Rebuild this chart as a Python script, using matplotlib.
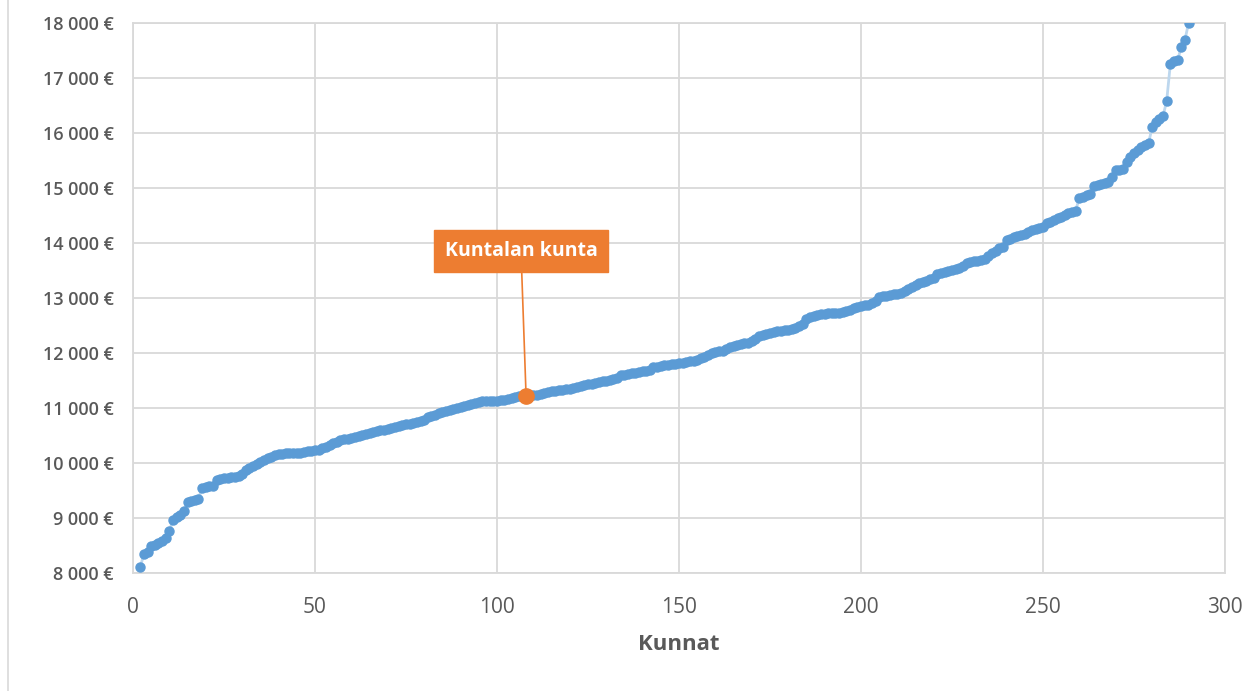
import matplotlib
matplotlib.use('Agg')
import matplotlib.pyplot as plt
from matplotlib.ticker import FuncFormatter, MultipleLocator
from matplotlib.lines import Line2D

# menot per asukas, kunnat järjestettynä pienimmästä suurimpaan
kunnat = list(range(2, 291))
menot = [
    8100, 8350, 8380, 8490, 8510, 8540, 8590, 8640, 8760, 8970,
    9010, 9060, 9120, 9290, 9310, 9320, 9350, 9550, 9570, 9580,
    9590, 9690, 9710, 9720, 9730, 9740, 9750, 9770, 9800, 9870,
    9910, 9950, 9990, 10020, 10060, 10090, 10110, 10140, 10160, 10170,
    10175, 10180, 10185, 10185, 10180, 10200, 10210, 10220, 10230, 10245,
    10265, 10290, 10320, 10355, 10380, 10420, 10435, 10445, 10455, 10470,
    10490, 10510, 10530, 10550, 10570, 10580, 10595, 10605, 10625, 10645,
    10660, 10675, 10690, 10700, 10710, 10720, 10740, 10760, 10780, 10830,
    10855, 10870, 10900, 10930, 10945, 10960, 10975, 10995, 11015, 11030,
    11050, 11075, 11095, 11110, 11120, 11125, 11128, 11132, 11136, 11140,
    11148, 11160, 11185, 11205, 11212, 11218, 11220, 11228, 11232, 11238,
    11255, 11275, 11290, 11300, 11312, 11322, 11330, 11340, 11350, 11365,
    11378, 11395, 11412, 11428, 11442, 11456, 11468, 11482, 11495, 11510,
    11525, 11545, 11595, 11605, 11618, 11632, 11645, 11658, 11668, 11678,
    11690, 11740, 11752, 11765, 11775, 11785, 11795, 11808, 11818, 11826,
    11835, 11848, 11860, 11875, 11900, 11930, 11960, 11995, 12010, 12030,
    12045, 12075, 12100, 12120, 12140, 12160, 12175, 12190, 12210, 12260,
    12310, 12330, 12345, 12360, 12380, 12395, 12405, 12415, 12425, 12440,
    12455, 12490, 12520, 12620, 12650, 12670, 12685, 12700, 12710, 12720,
    12730, 12735, 12735, 12738, 12755, 12780, 12815, 12840, 12855, 12865,
    12880, 12910, 12945, 13010, 13030, 13045, 13055, 13065, 13080, 13095,
    13130, 13165, 13200, 13240, 13265, 13290, 13310, 13340, 13360, 13440,
    13460, 13475, 13485, 13500, 13525, 13550, 13590, 13630, 13650, 13665,
    13680, 13695, 13715, 13760, 13815, 13860, 13900, 13930, 14050, 14075,
    14100, 14120, 14140, 14160, 14195, 14230, 14250, 14265, 14290, 14355,
    14390, 14420, 14450, 14480, 14510, 14545, 14570, 14590, 14820, 14840,
    14870, 14900, 15040, 15060, 15075, 15095, 15115, 15200, 15320, 15328,
    15340, 15480, 15570, 15630, 15690, 15750, 15780, 15810, 16110, 16200,
    16260, 16310, 16590, 17255, 17310, 17320, 17570, 17690, 18000,
]

korostus_nimi = 'Kuntalan kunta'
korostus_x = 108
korostus_y = menot[kunnat.index(korostus_x)]

sininen = '#5B9BD5'
oranssi = '#ED7D31'
harmaa = '#595959'
ruudukko = '#D9D9D9'

plt.rcParams['font.family'] = ['Open Sans', 'DejaVu Sans']

fig = plt.figure(figsize=(12.45, 6.91), dpi=100)
ax = fig.add_axes([0.1068, 0.1708, 0.8771, 0.7959])

ax.plot(kunnat, menot, color='#BDD7EE', lw=2, zorder=2)
ax.plot(kunnat, menot, 'o', color=sininen, ms=6.5, mec=sininen, zorder=3)
ax.plot([korostus_x], [korostus_y], 'o', color=oranssi, ms=11, zorder=5)

ax.annotate(korostus_nimi, xy=(korostus_x, korostus_y), xytext=(106.6, 13855),
            ha='center', va='center', color='white', fontsize=14, fontweight='bold',
            bbox=dict(boxstyle='square,pad=0.55', fc=oranssi, ec=oranssi),
            arrowprops=dict(arrowstyle='-', color=oranssi, lw=1.2, shrinkA=0, shrinkB=2),
            zorder=6)

ax.set_xlim(0, 300)
ax.set_ylim(8000, 18000)
ax.xaxis.set_major_locator(MultipleLocator(50))
ax.yaxis.set_major_locator(MultipleLocator(1000))
ax.yaxis.set_major_formatter(FuncFormatter(lambda v, p: f'{int(v):,}'.replace(',', ' ') + ' €'))

ax.grid(True, color=ruudukko, lw=1.3)
ax.set_axisbelow(True)
for s in ax.spines.values():
    s.set_color(ruudukko)
    s.set_linewidth(1.3)

ax.tick_params(length=0)
ax.tick_params(axis='y', pad=14, labelsize=13, labelcolor=harmaa)
ax.tick_params(axis='x', pad=17, labelsize=15, labelcolor=harmaa)
for t in ax.get_yticklabels():
    t.set_fontweight('semibold')

ax.set_xlabel('Kunnat', fontsize=16, fontweight='bold', color=harmaa, labelpad=12)

fig.add_artist(Line2D([8 / 1245, 8 / 1245], [0, 1], color=ruudukko, lw=1.2))

fig.savefig('out.png', dpi=100, facecolor='white')
